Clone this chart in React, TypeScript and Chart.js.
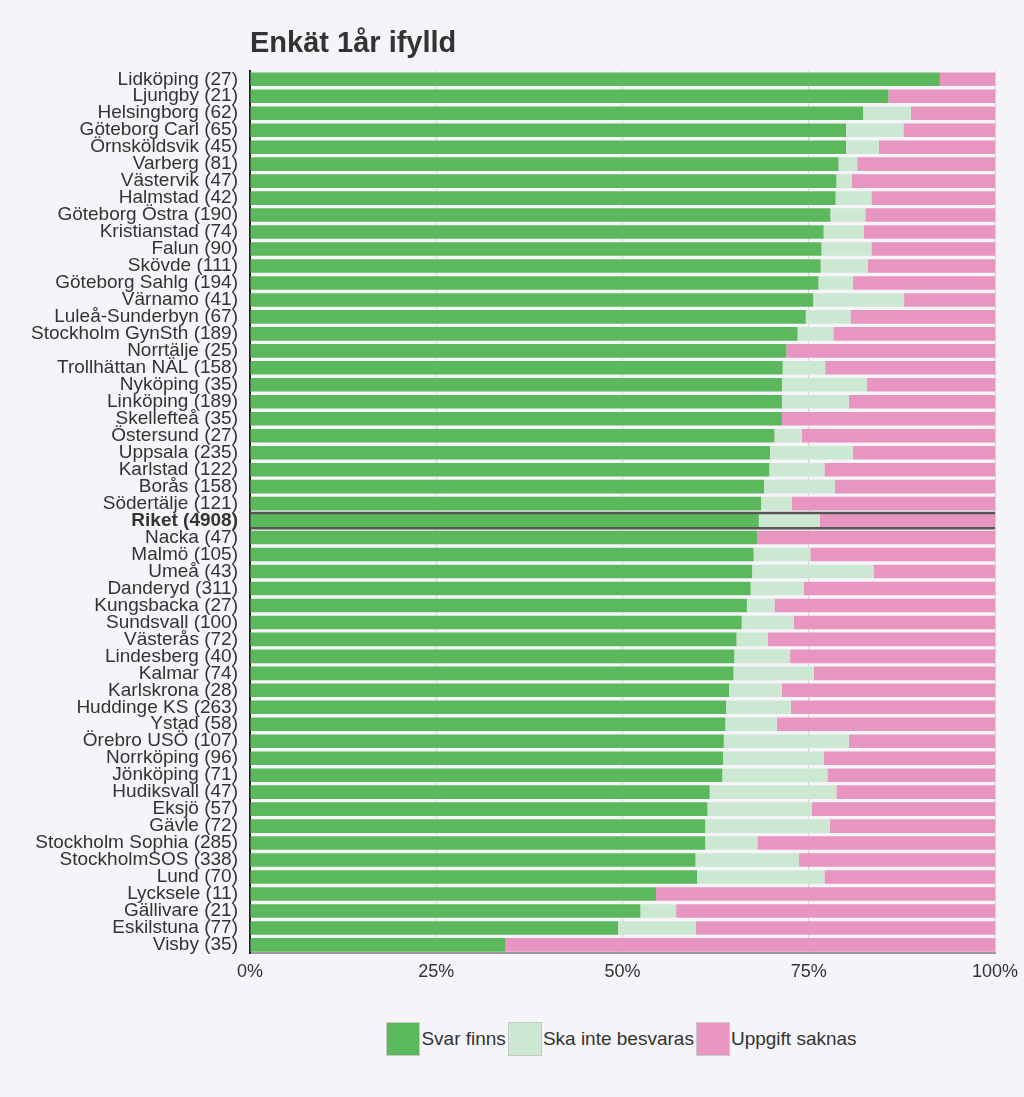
import React, { useEffect, useRef } from "react";
import { Chart, registerables } from "chart.js";

Chart.register(...registerables);

const TITLE = "Enkät 1år ifylld";

const categories: string[] = [
  "Lidköping (27)", "Ljungby (21)", "Helsingborg (62)", "Göteborg Carl (65)", "Örnsköldsvik (45)",
  "Varberg (81)", "Västervik (47)", "Halmstad (42)", "Göteborg Östra (190)", "Kristianstad (74)",
  "Falun (90)", "Skövde (111)", "Göteborg Sahlg (194)", "Värnamo (41)", "Luleå-Sunderbyn (67)",
  "Stockholm GynSth (189)", "Norrtälje (25)", "Trollhättan NÄL (158)", "Nyköping (35)", "Linköping (189)",
  "Skellefteå (35)", "Östersund (27)", "Uppsala (235)", "Karlstad (122)", "Borås (158)",
  "Södertälje (121)", "Riket (4908)", "Nacka (47)", "Malmö (105)", "Umeå (43)",
  "Danderyd (311)", "Kungsbacka (27)", "Sundsvall (100)", "Västerås (72)", "Lindesberg (40)",
  "Kalmar (74)", "Karlskrona (28)", "Huddinge KS (263)", "Ystad (58)", "Örebro USÖ (107)",
  "Norrköping (96)", "Jönköping (71)", "Hudiksvall (47)", "Eksjö (57)", "Gävle (72)",
  "Stockholm Sophia (285)", "StockholmSOS (338)", "Lund (70)", "Lycksele (11)", "Gällivare (21)",
  "Eskilstuna (77)", "Visby (35)",
];

const highlightLabel = "Riket (4908)";

const svarFinns: number[] = [
  92.6, 85.7, 82.3, 80.0, 80.0,
  79.0, 78.7, 78.6, 77.9, 77.0,
  76.7, 76.6, 76.3, 75.6, 74.6,
  73.5, 72.0, 71.5, 71.4, 71.4,
  71.4, 70.4, 69.8, 69.7, 69.0,
  68.6, 68.3, 68.1, 67.6, 67.4,
  67.2, 66.7, 66.0, 65.3, 65.0,
  64.9, 64.3, 63.9, 63.8, 63.6,
  63.5, 63.4, 61.7, 61.4, 61.1,
  61.1, 59.8, 60.0, 54.5, 52.4,
  49.4, 34.3,
];

const skaInteBesvaras: number[] = [
  0, 0, 6.4, 7.7, 4.4,
  2.5, 2.1, 4.8, 4.7, 5.4,
  6.7, 6.3, 4.6, 12.2, 6.0,
  4.8, 0, 5.7, 11.4, 9.0,
  0, 3.7, 11.1, 7.4, 9.5,
  4.1, 8.2, 0, 7.6, 16.3,
  7.1, 3.7, 7.0, 4.2, 7.5,
  10.8, 7.1, 8.7, 6.9, 16.8,
  13.5, 14.1, 17.0, 14.0, 16.7,
  7.0, 13.9, 17.1, 0, 4.8,
  10.4, 0,
];

const uppgiftSaknas: number[] = [
  7.4, 14.3, 11.3, 12.3, 15.6,
  18.5, 19.2, 16.6, 17.4, 17.6,
  16.6, 17.1, 19.1, 12.2, 19.4,
  21.7, 28.0, 22.8, 17.2, 19.6,
  28.6, 25.9, 19.1, 22.9, 21.5,
  27.3, 23.5, 31.9, 24.8, 16.3,
  25.7, 29.6, 27.0, 30.5, 27.5,
  24.3, 28.6, 27.4, 29.3, 19.6,
  23.0, 22.5, 21.3, 24.6, 22.2,
  31.9, 26.3, 22.9, 45.5, 42.8,
  40.2, 65.7,
];

const xTicks: number[] = [0, 25, 50, 75, 100];

const seriesNames = ["Svar finns", "Ska inte besvaras", "Uppgift saknas"];
const seriesColors = ["#5cb85c", "#cde8d2", "#e995c2"];

const FONT = "Arial, 'Liberation Sans', sans-serif";
const BG = "#f5f4f8";
const TEXT = "#333333";

const highlightPlugin = {
  id: "highlightRow",
  afterDatasetsDraw(chart: any) {
    const y = chart.scales.y;
    const idx = categories.indexOf(highlightLabel);
    if (idx < 0) return;
    const c = y.getPixelForValue(idx);
    const half = Math.abs(y.getPixelForValue(1) - y.getPixelForValue(0)) / 2;
    const { left, right } = chart.chartArea;
    const ctx = chart.ctx;
    ctx.save();
    ctx.strokeStyle = "#555555";
    ctx.lineWidth = 2.5;
    ctx.beginPath();
    ctx.moveTo(left, c - half * 0.9);
    ctx.lineTo(right, c - half * 0.9);
    ctx.moveTo(left, c + half * 0.9);
    ctx.lineTo(right, c + half * 0.9);
    ctx.stroke();
    ctx.restore();
  },
};

export default function App() {
  const ref = useRef<HTMLCanvasElement | null>(null);

  useEffect(() => {
    document.body.style.margin = "0";
    document.body.style.background = BG;
    if (!ref.current) return;
    const data = [svarFinns, skaInteBesvaras, uppgiftSaknas];
    const chart = new Chart(ref.current, {
      type: "bar",
      data: {
        labels: categories,
        datasets: seriesNames.map((name, i) => ({
          label: name,
          data: data[i],
          backgroundColor: seriesColors[i],
          borderWidth: 0,
          barPercentage: 0.8,
          categoryPercentage: 1,
        })),
      },
      plugins: [highlightPlugin],
      options: {
        indexAxis: "y",
        animation: false,
        responsive: false,
        devicePixelRatio: 1,
        layout: { padding: { top: 5, right: 29, bottom: 9, left: 0 } },
        plugins: {
          legend: { display: false },
          tooltip: { enabled: false },
          title: {
            display: true,
            text: TITLE,
            align: "start",
            fullSize: false,
            color: TEXT,
            font: { family: FONT, size: 29, weight: "bold" },
            padding: { top: 22, bottom: 9 },
          },
        },
        scales: {
          x: {
            stacked: true,
            min: 0,
            max: 100,
            afterBuildTicks: (scale: any) => {
              scale.ticks = xTicks.map((v) => ({ value: v }));
            },
            afterFit: (scale: any) => {
              scale.paddingRight = 0;
              scale.paddingLeft = 0;
            },
            ticks: {
              color: TEXT,
              font: { family: FONT, size: 18 },
              padding: 8,
              callback: (v: any) => v + "%",
            },
            grid: {
              drawTicks: false,
              color: (ctx: any) => (ctx.tick && ctx.tick.value === 0 ? "rgba(0,0,0,0)" : "#d4d4d4"),
              lineWidth: 1,
            },
            border: { display: true, color: "#9a9a9a", width: 2 },
          },
          y: {
            stacked: true,
            afterFit: (scale: any) => {
              scale.width = 250;
            },
            ticks: {
              color: TEXT,
              padding: 12,
              autoSkip: false,
              font: (ctx: any) =>
                categories[ctx.index] === highlightLabel
                  ? { family: FONT, size: 19, weight: "bold" }
                  : { family: FONT, size: 19 },
            },
            grid: { display: false, drawTicks: false },
            border: { display: true, color: "#222222", width: 2 },
          },
        },
      },
    } as any);
    return () => chart.destroy();
  }, []);

  const legendItem = (name: string, color: string) => (
    <div key={name} style={{ display: "flex", alignItems: "center", marginRight: 2 }}>
      <div
        style={{
          width: 34,
          height: 34,
          boxSizing: "border-box",
          background: color,
          border: "1px solid #c9c9c9",
        }}
      />
      <span style={{ marginLeft: 1, fontFamily: FONT, fontSize: 19, color: TEXT, whiteSpace: "nowrap" }}>{name}</span>
    </div>
  );

  return (
    <div style={{ position: "relative", width: 1024, height: 1097, background: BG, overflow: "hidden" }}>
      <canvas ref={ref} width={1024} height={1000} style={{ display: "block" }} />
      <div
        style={{
          position: "absolute",
          top: 1022,
          left: 250,
          width: 745,
          display: "flex",
          justifyContent: "center",
          alignItems: "center",
        }}
      >
        {seriesNames.map((n, i) => legendItem(n, seriesColors[i]))}
      </div>
    </div>
  );
}
